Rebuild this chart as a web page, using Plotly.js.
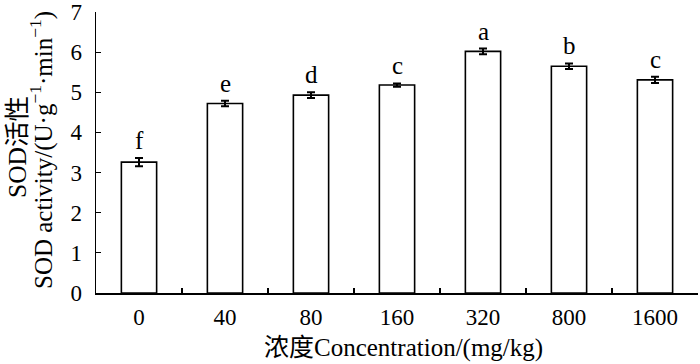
<!DOCTYPE html>
<html>
<head>
<meta charset="utf-8">
<script src="https://cdn.plot.ly/plotly-3.0.1.min.js"></script>
<style>html,body{margin:0;padding:0;background:#fff;}#chart{width:700px;height:364px;}</style>
</head>
<body>
<div id="chart"></div>
<script>
const categories = ["0", "40", "80", "160", "320", "800", "1600"];
const sodValues = [3.26, 4.72, 4.93, 5.18, 6.02, 5.65, 5.31];
const sodErrors = [0.10, 0.07, 0.07, 0.04, 0.07, 0.07, 0.08];
const sigLetters = ["f", "e", "d", "c", "a", "b", "c"];

const FONT = "Liberation Serif, Times New Roman, Noto Sans CJK SC, serif";

const bars = {
  type: "bar",
  x: categories,
  y: sodValues,
  width: 0.41,
  marker: {color: "#ffffff", line: {color: "#000000", width: 1.6}},
  error_y: {type: "data", array: sodErrors, visible: true, color: "#000000", thickness: 2, width: 4},
  hoverinfo: "skip",
  showlegend: false
};

const letterAnnotations = categories.map((c, i) => ({
  xref: "x", yref: "y",
  x: i, y: sodValues[i] + sodErrors[i],
  xanchor: "center", yanchor: "bottom",
  yshift: 2,
  text: sigLetters[i],
  showarrow: false,
  font: {family: FONT, size: 25, color: "#000000"}
}));

const layout = {
  width: 700,
  height: 364,
  margin: {l: 96, r: 2, t: 12, b: 71},
  paper_bgcolor: "#ffffff",
  plot_bgcolor: "#ffffff",
  font: {family: FONT, size: 23, color: "#000000"},
  xaxis: {
    type: "category",
    categoryorder: "array",
    categoryarray: categories,
    showline: true,
    linecolor: "#000000",
    linewidth: 1.5,
    ticks: "inside",
    tickson: "boundaries",
    ticklen: 5,
    tickwidth: 1.2,
    tickcolor: "#000000",
    showgrid: false,
    zeroline: false,
    tickfont: {family: FONT, size: 23, color: "#000000"},
    ticklabelstandoff: 3,
    fixedrange: true
  },
  yaxis: {
    range: [0, 7],
    dtick: 1,
    showline: true,
    linecolor: "#000000",
    linewidth: 1.5,
    ticks: "inside",
    ticklen: 5,
    tickwidth: 1.2,
    tickcolor: "#000000",
    showgrid: false,
    zeroline: false,
    tickfont: {family: FONT, size: 23, color: "#000000"},
    ticklabelstandoff: 8,
    fixedrange: true
  },
  annotations: letterAnnotations.concat([
    {
      xref: "paper", yref: "paper",
      x: (403 - 96) / 602, y: (293 - 348) / 281,
      xanchor: "center", yanchor: "middle",
      text: "浓度Concentration/(mg/kg)",
      showarrow: false,
      borderpad: 0,
      font: {family: FONT, size: 25, color: "#000000"}
    },
    {
      xref: "paper", yref: "paper",
      x: (17 - 96) / 602, y: (293 - 147) / 281,
      xanchor: "center", yanchor: "middle",
      textangle: -90,
      text: "SOD活性",
      showarrow: false,
      font: {family: FONT, size: 25.5, color: "#000000"}
    },
    {
      xref: "paper", yref: "paper",
      x: (41 - 96) / 602, y: (293 - 150) / 281,
      xanchor: "center", yanchor: "middle",
      textangle: -90,
      text: "SOD activity/(U·g<sup>−1</sup>·min<sup>−1</sup>)",
      showarrow: false,
      font: {family: FONT, size: 25, color: "#000000"}
    }
  ])
};

Plotly.newPlot("chart", [bars], layout, {displayModeBar: false, staticPlot: true});
</script>
</body>
</html>
